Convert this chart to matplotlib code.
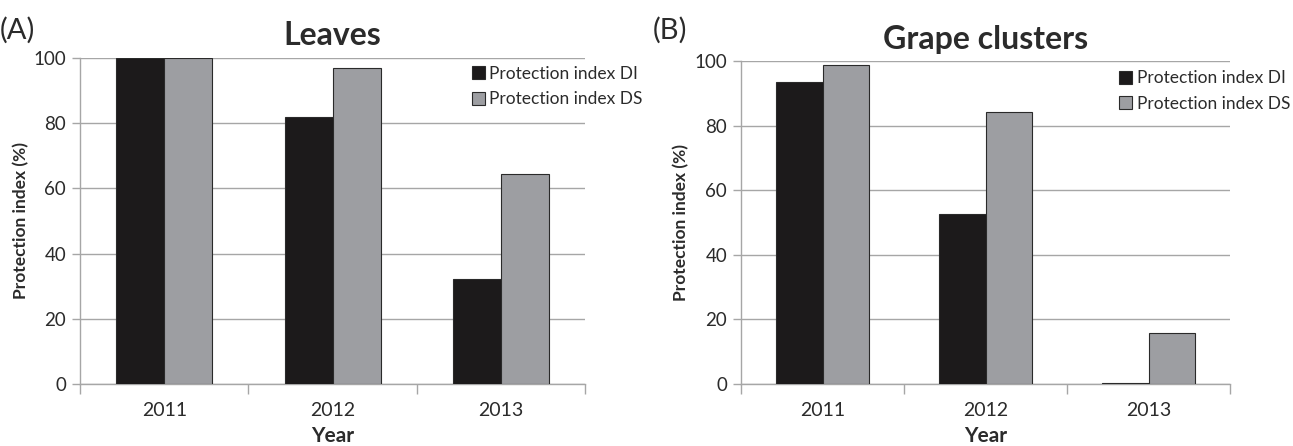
import matplotlib
matplotlib.use("Agg")
import matplotlib.pyplot as plt
import numpy as np

plt.rcParams['font.family'] = ['Lato', 'DejaVu Sans']

# -------------------------------
# Data
# -------------------------------
years = ['2011', '2012', '2013']
series_names = ['Protection index DI', 'Protection index DS']

leaves_di = [100, 82, 32.2]
leaves_ds = [100, 96.8, 64.5]

grapes_di = [93.6, 52.5, 0.4]
grapes_ds = [98.8, 84.1, 15.9]

panels = [
    ('(A)', 'Leaves', leaves_di, leaves_ds),
    ('(B)', 'Grape clusters', grapes_di, grapes_ds),
]

# -------------------------------
# Styling
# -------------------------------
DI_COLOR = '#1c1a1b'
DS_COLOR = '#9d9ea2'
EDGE = '#2a2a2a'
GRID = '#a6a6a6'
TEXT = '#2b2b2b'
BAR_W = 0.285

fig = plt.figure(figsize=(12.93, 4.46), dpi=100)

axes_rects = [
    [0.0619, 0.139, 0.3906, 0.731],
    [0.5731, 0.139, 0.3782, 0.724],
]
legend_anchor = [(0.358, 0.872), (0.859, 0.862)]
letter_pos = [(0.0, 0.933), (0.505, 0.933)]
ylabel_x = [0.016, 0.527]

x = np.arange(len(years))

for i, (letter, title, di, ds) in enumerate(panels):
    ax = fig.add_axes(axes_rects[i])
    b1 = ax.bar(x - BAR_W / 2, di, BAR_W, color=DI_COLOR, edgecolor=EDGE, linewidth=0.8,
                label=series_names[0], zorder=3)
    b2 = ax.bar(x + BAR_W / 2, ds, BAR_W, color=DS_COLOR, edgecolor=EDGE, linewidth=0.8,
                label=series_names[1], zorder=3)

    ax.set_xlim(-0.5, len(years) - 0.5)
    ax.set_ylim(0, 100)
    ax.set_yticks(np.arange(0, 101, 20))
    ax.yaxis.grid(True, color=GRID, linewidth=1.0, zorder=0)
    ax.set_axisbelow(True)

    for s in ['top', 'right']:
        ax.spines[s].set_visible(False)
    for s in ['bottom', 'left']:
        ax.spines[s].set_color(GRID)
        ax.spines[s].set_linewidth(1.0)

    # category labels between boundary ticks
    ax.set_xticks(np.arange(-0.5, len(years), 1.0))
    ax.set_xticklabels([])
    ax.set_xticks(x, minor=True)
    ax.set_xticklabels(years, minor=True)
    ax.tick_params(axis='x', which='major', length=7, color=GRID, width=1.0)
    ax.tick_params(axis='x', which='minor', length=0, pad=13, labelsize=14, labelcolor=TEXT)
    ax.tick_params(axis='y', length=6, color=GRID, width=1.0, labelsize=13.5, labelcolor=TEXT, pad=4)

    ax.set_xlabel('Year', fontsize=15, fontweight='bold', color=TEXT, labelpad=5)
    ax.set_title(title, fontsize=23, fontweight='bold', color=TEXT, pad=9)
    fig.text(ylabel_x[i], axes_rects[i][1] + axes_rects[i][3] / 2, 'Protection index (%)',
             rotation=90, ha='center', va='center', fontsize=12.5, fontweight='bold', color=TEXT)
    fig.text(letter_pos[i][0], letter_pos[i][1], letter, fontsize=21, color=TEXT,
             ha='left', va='center')

    ax.legend(handles=[b1, b2], loc='upper left', bbox_to_anchor=legend_anchor[i],
              bbox_transform=fig.transFigure, frameon=False, fontsize=12.5,
              handlelength=0.75, handleheight=0.75, handletextpad=0.25,
              labelspacing=0.55, borderpad=0, labelcolor=TEXT)

fig.savefig('out.png', dpi=100)
